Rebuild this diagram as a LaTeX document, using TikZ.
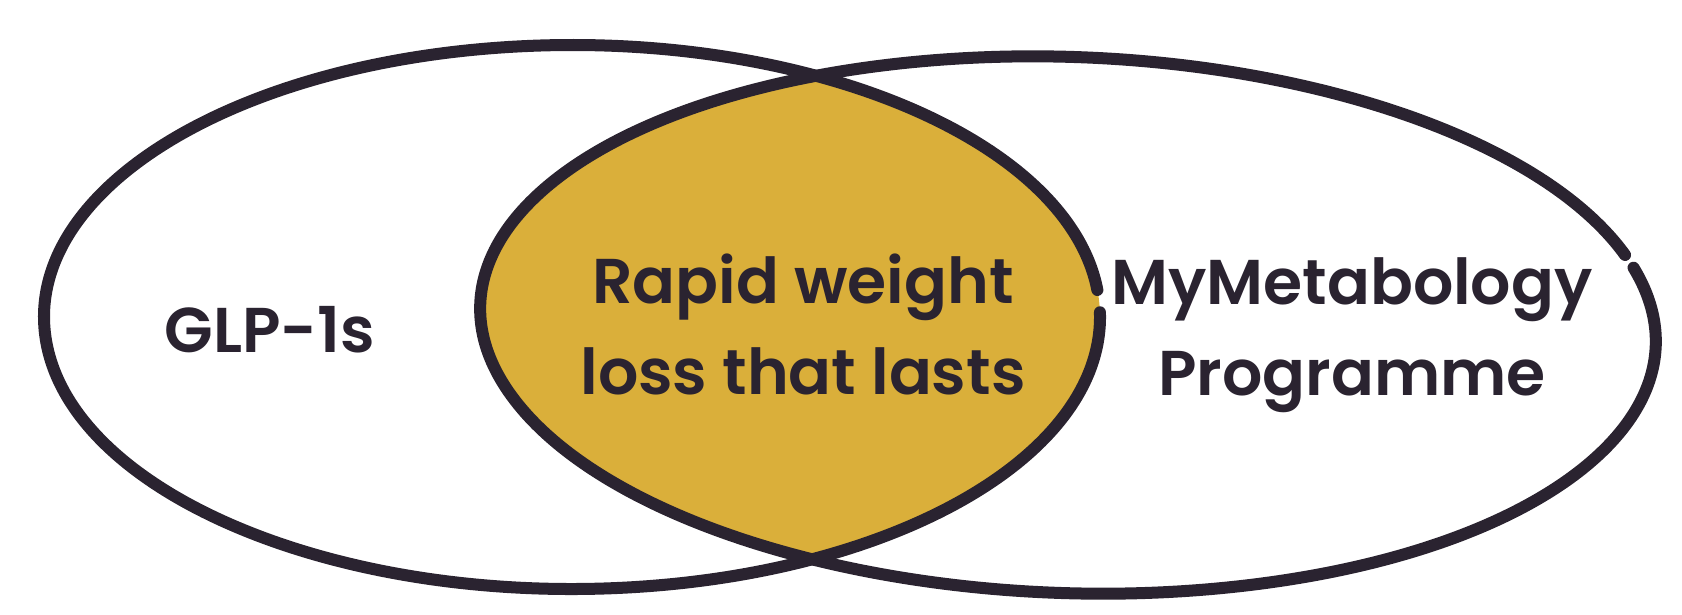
\documentclass[tikz,border=0pt]{standalone}
\usepackage{fontspec}
\newfontfamily\vennfont{Poppins SemiBold}
\definecolor{ink}{HTML}{2A2330}
\definecolor{mustard}{HTML}{DAAF3A}

\begin{document}
\begin{tikzpicture}[x=0.01cm, y=0.01cm,
	ring/.style={draw=ink, line width=1.2mm, line cap=round},
	setlabel/.style={text=ink, font=\vennfont\fontsize{18}{25.8}\selectfont, align=center, inner sep=0pt}]
	\useasboundingbox (0,0) rectangle (1682,614);

	% the overlap
	\begin{scope}
		\clip (572,297) ellipse [x radius=528, y radius=272];
		\fill[mustard, rotate around={-2:(1068,289)}] (1068,289) ellipse [x radius=588, y radius=268];
	\end{scope}

	% the two sets
	\draw[ring] (572,297) ++(5.7:528 and 272) arc[start angle=5.7, end angle=361, x radius=528, y radius=272];
	\draw[ring, rotate around={-2:(1068,289)}] (1068,289) ++(19.5:588 and 268) arc[start angle=19.5, end angle=376.7, x radius=588, y radius=268];

	% base anchor sits on the last line
	\node[setlabel, anchor=base] (glp) at (270,262) {GLP-1s};
	\node[setlabel, anchor=base] (overlap) at (803,220) {Rapid weight\\loss that lasts};
	\node[setlabel, anchor=base] (programme) at (1352,219) {MyMetabology\\Programme};
\end{tikzpicture}
\end{document}
